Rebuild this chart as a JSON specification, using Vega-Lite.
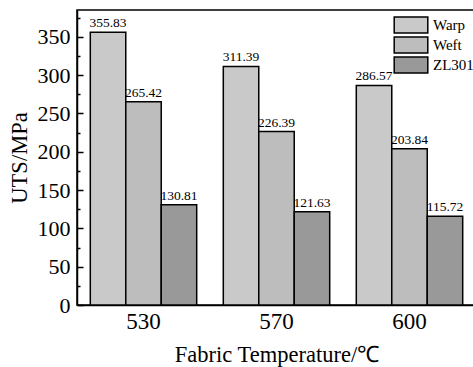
{
  "$schema": "https://vega.github.io/schema/vega-lite/v6.json",
  "width": 399,
  "height": 295,
  "autosize": {"type": "none"},
  "padding": {"left": 77, "top": 10, "right": 0, "bottom": 62},
  "background": "white",
  "config": {
    "font": "Liberation Serif",
    "view": {"stroke": "black", "strokeWidth": 1.5},
    "axis": {"domainColor": "black", "domainWidth": 1.5, "tickColor": "black", "tickWidth": 1.5, "labelColor": "black", "titleColor": "black", "labelFont": "Liberation Serif", "titleFont": "Liberation Serif", "titleFontWeight": "normal", "grid": false}
  },
  "data": {
    "values": [
      {"temp": "530", "type": "Warp", "uts": 355.83},
      {"temp": "530", "type": "Weft", "uts": 265.42},
      {"temp": "530", "type": "ZL301", "uts": 130.81},
      {"temp": "570", "type": "Warp", "uts": 311.39},
      {"temp": "570", "type": "Weft", "uts": 226.39},
      {"temp": "570", "type": "ZL301", "uts": 121.63},
      {"temp": "600", "type": "Warp", "uts": 286.57},
      {"temp": "600", "type": "Weft", "uts": 203.84},
      {"temp": "600", "type": "ZL301", "uts": 115.72}
    ]
  },
  "encoding": {
    "x": {
      "field": "temp", "type": "nominal",
      "scale": {"paddingInner": 0.2, "paddingOuter": 0.1},
      "title": "Fabric Temperature/℃",
      "axis": {"labelAngle": 0, "ticks": false, "labelFontSize": 23, "labelPadding": 5, "titleFontSize": 22.5, "titlePadding": 10}
    },
    "xOffset": {"field": "type", "type": "nominal", "sort": ["Warp", "Weft", "ZL301"], "scale": {"paddingInner": 0, "paddingOuter": 0}}
  },
  "layer": [
    {
      "mark": {"type": "bar", "stroke": "black", "strokeWidth": 1.5},
      "encoding": {
        "y": {
          "field": "uts", "type": "quantitative",
          "scale": {"domain": [0, 385], "nice": false},
          "title": "UTS/MPa",
          "axis": {"values": [0, 50, 100, 150, 200, 250, 300, 350], "tickSize": -6, "labelPadding": 13, "labelFontSize": 22, "titleFontSize": 22.5, "titlePadding": 6}
        },
        "fill": {
          "field": "type", "type": "nominal",
          "scale": {"domain": ["Warp", "Weft", "ZL301"], "range": ["#c9c9c9", "#bdbdbd", "#999999"]},
          "legend": {"orient": "none", "legendX": 325, "legendY": 6, "title": null, "symbolType": "M-2.1,-1H2.1V1H-2.1Z", "symbolSize": 256, "symbolStrokeColor": "black", "symbolStrokeWidth": 1.5, "symbolOpacity": 1, "labelFontSize": 15, "labelColor": "black", "labelOffset": 13, "rowPadding": -3}
        }
      }
    },
    {
      "mark": {"type": "text", "baseline": "bottom", "dy": -2, "fontSize": 13.5, "color": "black"},
      "encoding": {
        "y": {"field": "uts", "type": "quantitative", "scale": {"domain": [0, 385], "nice": false}, "axis": null},
        "text": {"field": "uts", "type": "quantitative", "format": ".2f"}
      }
    },
    {
      "mark": {"type": "point", "opacity": 0},
      "encoding": {
        "y": {
          "field": "uts", "type": "quantitative",
          "scale": {"domain": [0, 385], "nice": false},
          "axis": {"orient": "left", "values": [25, 75, 125, 175, 225, 275, 325, 375], "tickSize": -3, "labels": false, "domain": false, "title": null}
        }
      }
    }
  ],
  "resolve": {"axis": {"y": "independent"}}
}
